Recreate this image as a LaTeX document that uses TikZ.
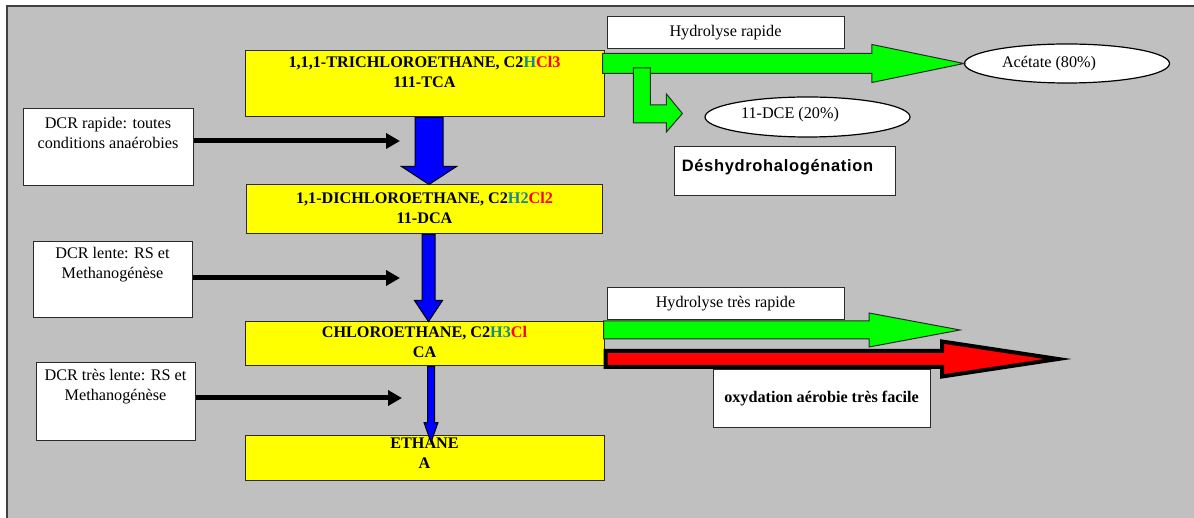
\documentclass[tikz,border=0pt]{standalone}
\usepackage{fontspec}
\setmainfont{Liberation Serif}
\newfontfamily\arialsp[LetterSpace=4]{Liberation Sans}
\usetikzlibrary{arrows.meta,shapes.geometric,positioning,calc}

\definecolor{bggray}{HTML}{C0C0C0}
\definecolor{frameline}{HTML}{404040}
\definecolor{boxline}{HTML}{2A2A2A}
\definecolor{yelfill}{HTML}{FFFF00}
\definecolor{grfill}{HTML}{00FF00}
\definecolor{blfill}{HTML}{0000FF}
\definecolor{rdfill}{HTML}{FF0000}
\definecolor{hteal}{HTML}{168A8A}

\newcommand{\fsz}{\fontsize{16.2pt}{20pt}\selectfont}
% block arrow: [style]{from}{to}{half shaft}{half head}{head length}
\newcommand{\fatarrow}[6][]{%
  \coordinate (fa-neck) at ($(#3)!#6!(#2)$);
  \draw[#1] ($(#2)!#4!90:(#3)$) -- ($(fa-neck)!#4!90:(#3)$) -- ($(fa-neck)!#5!90:(#3)$) -- (#3)
    -- ($(fa-neck)!#5!-90:(#3)$) -- ($(fa-neck)!#4!-90:(#3)$) -- ($(#2)!#4!-90:(#3)$) -- cycle;}

\begin{document}
\begin{tikzpicture}[x=1pt,y=-1pt,
  font=\fsz,
  % STYLES
  every node/.style={inner sep=0pt},
  % OWNs
  yelbox/.style={rectangle,draw=boxline,line width=1pt,fill=yelfill,minimum width=359pt},
  whbox/.style={rectangle,draw=boxline,line width=1pt,fill=white},
  boxtxt/.style={align=center,font=\fsz\bfseries},
  oval/.style={ellipse,draw=black,line width=1.2pt,fill=white,minimum width=205pt,minimum height=39pt},
  grarr/.style={draw=boxline,line width=1pt,fill=grfill},
  blarr/.style={draw=black,line width=1pt,fill=blfill},
  rdarr/.style={draw=black,line width=4pt,fill=rdfill},
  dcrarr/.style={line width=5pt,-{Triangle[length=14pt,width=15pt]}}]

  \useasboundingbox (0,0) rectangle (1194,518);
  \fill[bggray] (7,6) rectangle (1194,518);
  \draw[frameline,line width=2pt] (7,518) -- (7,6) -- (1194,6);

  % chain
  \node[yelbox,minimum height=66pt] (tca) at (424.5,84) {};
  \node[yelbox,minimum height=49pt,minimum width=356pt,below=67pt of tca] (dca) {};
  \node[yelbox,minimum height=44pt,below=87pt of dca] (ca) {};
  \node[yelbox,minimum height=45pt,below=68pt of ca] (eth) {};

  \node[boxtxt,below=5.5pt of tca.north] (tcatxt)
    {1,1,1-TRICHLOROETHANE, C2\textcolor{hteal}{H}\textcolor{rdfill}{Cl3}\\111-TCA};
  \node[boxtxt,below=7.5pt of dca.north] (dcatxt)
    {1,1-DICHLOROETHANE, C2\textcolor{hteal}{H2}\textcolor{rdfill}{Cl2}\\11-DCA};
  \node[boxtxt,below=4.5pt of ca.north] (catxt)
    {CHLOROETHANE, C2\textcolor{hteal}{H3}\textcolor{rdfill}{Cl}\\CA};
  \node[boxtxt,below=3.5pt of eth.north] (ethtxt) {ETHANE\\A};

  % DCR boxes
  \node[whbox,minimum width=170pt,minimum height=77pt] (dcr1) at (108,147.5) {};
  \node[align=center,below=8.5pt of dcr1.north] (dcr1txt) {DCR rapide: toutes\\conditions anaérobies};
  \node[whbox,minimum width=159pt,minimum height=76pt] (dcr2) at (112.5,280) {};
  \node[align=center,below=5.5pt of dcr2.north] (dcr2txt) {DCR lente: RS et\\Methanogénèse};
  \node[whbox,minimum width=159pt,minimum height=77pt] (dcr3) at (115.5,401.5) {};
  \node[align=center,below=6.5pt of dcr3.north] (dcr3txt) {DCR très lente: RS et\\Methanogénèse};

  \coordinate (t1) at (400,141);
  \coordinate (t2) at (400,278);
  \coordinate (t3) at (402,398);
  \draw[dcrarr] (dcr1.east |- t1) -- (t1);
  \draw[dcrarr] (dcr2.east |- t2) -- (t2);
  \draw[dcrarr] (dcr3.east |- t3) -- (t3);

  % blue arrows
  \coordinate (b1s) at ($(tca.south)+(4.5,0)$);
  \coordinate (b1e) at (b1s |- dca.north);
  \coordinate (b2s) at ($(dca.south)+(4,0)$);
  \coordinate (b2e) at (b2s |- ca.north);
  \coordinate (b3s) at ($(ca.south)+(6.5,0)$);
  \coordinate (b3e) at ($(b3s |- eth.north)+(0,8)$);
  \fatarrow[blarr]{b1s}{b1e}{14pt}{27.5pt}{18pt}
  \fatarrow[blarr]{b2s}{b2e}{6.5pt}{14pt}{21pt}
  \fatarrow[blarr]{b3s}{b3e}{3.5pt}{7pt}{20pt}

  % hydrolyse, products
  \node[whbox,minimum width=237pt,minimum height=32pt,above right=1pt and 2pt of tca.north east] (hyd1) {Hydrolyse rapide};
  \node[whbox,minimum width=237pt,minimum height=32pt,above right=1pt and 2pt of ca.north east] (hyd2) {Hydrolyse très rapide};

  \node[oval] (acet) at (1067,63.5) {};
  \node (acettxt) at ($(acet.center)+(-18,0)$) {Acétate (80\%)};
  \node[oval,minimum height=40pt] (dce) at (807.5,117) {};
  \node (dcetxt) at ($(dce.center)+(-17.5,-2)$) {11-DCE (20\%)};

  \node[whbox,minimum width=221pt,minimum height=49pt,below=8pt of dce,xshift=-23pt] (desh) {};
  \node[below=14pt of desh.north,xshift=-7pt,font=\fontsize{16.5pt}{20pt}\arialsp\bfseries] (deshtxt) {Déshydrohalogénation};

  \coordinate (g1s) at ($(tca.east |- acet.west)+(-2,0)$);
  \fatarrow[grarr]{g1s}{acet.west}{10pt}{19pt}{92pt}

  \coordinate (dcetip) at ($(dce.west)+(-22,-3.5)$);
  \draw[grarr] (dcetip) -- ++(-16,18.5) -- ++(0,-9) -- ++(-33,0) -- ++(0,-55)
    -- ++(17,0) -- ++(0,37) -- ++(16,0) -- ++(0,-11) -- cycle;

  \coordinate (g2e) at (960,330);
  \coordinate (g2s) at ($(ca.east |- g2e)+(-1,0)$);
  \fatarrow[grarr]{g2s}{g2e}{9pt}{17pt}{91pt}

  \coordinate (r1e) at (1058,359);
  \coordinate (r1s) at ($(ca.east |- r1e)+(1,0)$);
  \fatarrow[rdarr]{r1s}{r1e}{8pt}{17.5pt}{116pt}

  \node[whbox,minimum width=217pt,minimum height=57pt,font=\fsz\bfseries] (oxy) at (821.5,398.5) {oxydation aérobie très facile};
\end{tikzpicture}
\end{document}
